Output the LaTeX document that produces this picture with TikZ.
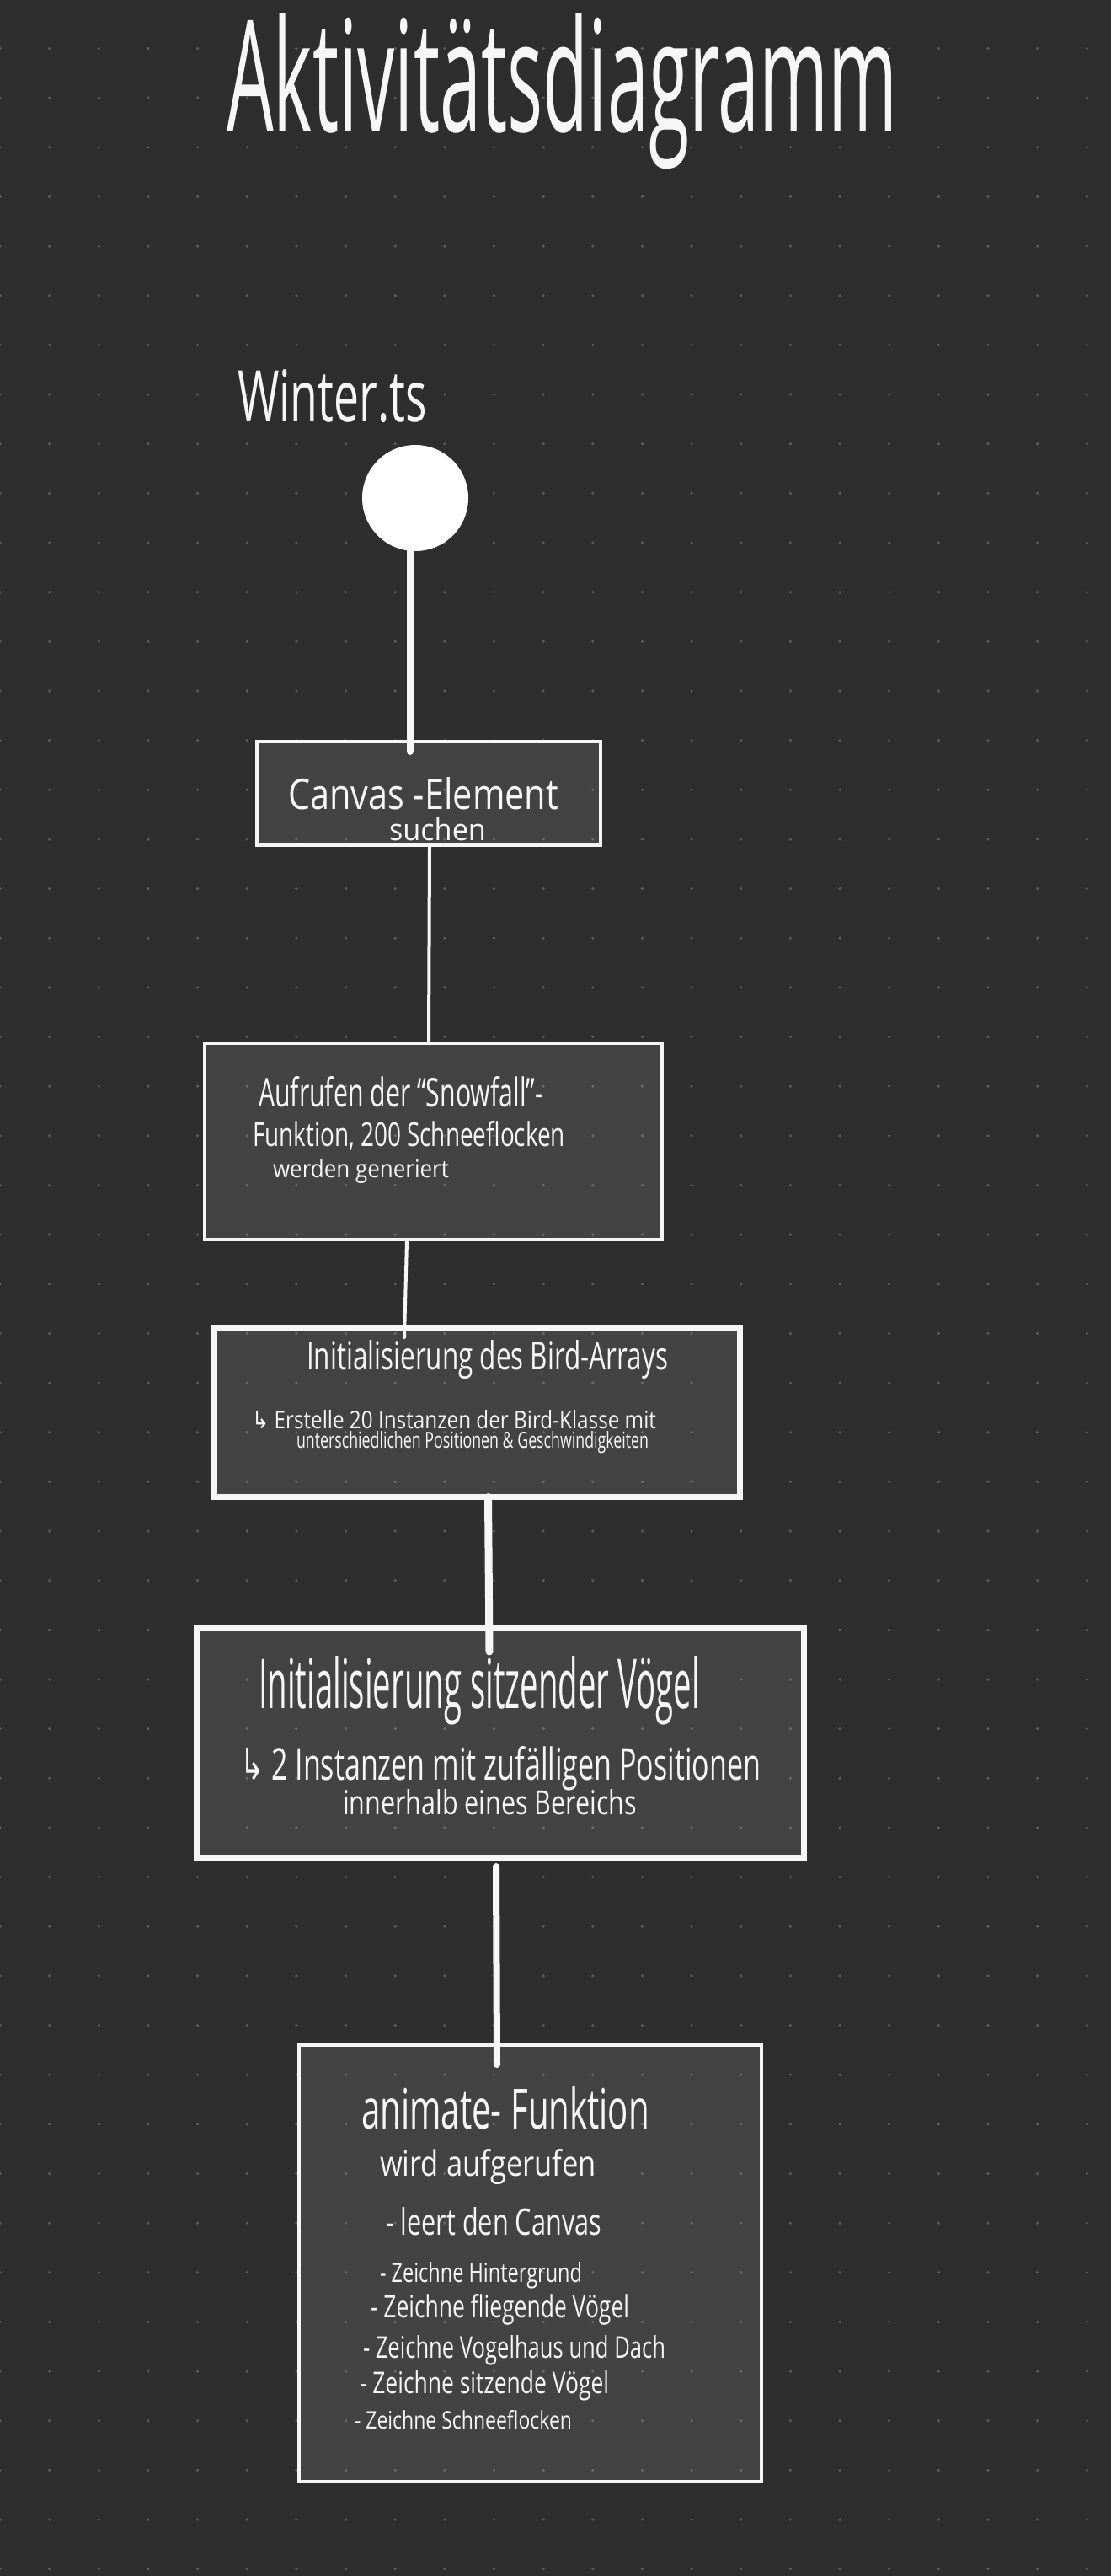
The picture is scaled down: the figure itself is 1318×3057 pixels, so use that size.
\documentclass[tikz,border=0pt]{standalone}
\usepackage{fontspec}
\setmainfont{Open Sans}
\newfontfamily\symfont{DejaVu Sans}
\usepackage{graphicx}
\usetikzlibrary{calc}
\newlength\pxu
\setlength\pxu{0.5pt}
\newcommand\fitpx[3]{\resizebox{#1\pxu}{#2\pxu}{#3}}
\definecolor{bg}{HTML}{2E2E2E}
\definecolor{gdot}{HTML}{5A5A5A}
\definecolor{ink}{HTML}{F6F6F6}
\tikzset{
  boxthin/.style={rectangle, draw=ink, line width=2pt, fill=white, fill opacity=0.1, draw opacity=1, inner sep=0pt, outer sep=0pt},
  boxthick/.style={boxthin, line width=3.5pt},
  txt/.style={anchor=base west, inner sep=0pt, outer sep=0pt, text=ink},
  conthin/.style={draw=ink, line width=2pt, line cap=round},
  conthick/.style={draw=ink, line width=4pt, line cap=round},
}
\begin{document}
\begin{tikzpicture}[x=0.5pt,y=-0.5pt]
\useasboundingbox (0,0) rectangle (1318,3057);
\fill[bg] (-30,-30) rectangle (1350,3090);
% dot grid
\foreach \i in {0,...,22}{
  \foreach \j in {0,...,51}{
    \fill[gdot] (\i*58.65, 57.5+\j*58.65) circle[radius=1.8];
  }
}
% title
\node[txt] (title) at (269,156) {\fitpx{797}{140}{Aktivitätsdiagramm}};
\node[txt] (file) at (282,500) {\fitpx{225}{62}{Winter.ts}};
% start node
\node[circle, fill=white, minimum size=63pt, inner sep=0pt, outer sep=0pt] (start) at (493,591) {};
% boxes
\node[boxthin, minimum width=204pt, minimum height=61.5pt] (b1) at (509,941.5) {};
\node[boxthin, minimum width=271.5pt, minimum height=116.5pt] (b2) at (514.5,1354.5) {};
\node[boxthick, minimum width=312pt, minimum height=100pt] (b3) at (566.5,1676.5) {};
\node[boxthick, minimum width=360.5pt, minimum height=136.5pt] (b4) at (594,2068) {};
\node[boxthin, minimum width=274.5pt, minimum height=259pt] (b5) at (629.5,2686) {};
% connectors
\draw[conthick] ($(start.south)+(-6,0)$) -- ($(b1.north)+(-22,12)$);
\draw[conthin] ($(b1.south)+(1,2)$) -- ($(b2.north)+(-5.5,0)$);
\draw[conthin] ($(b2.south)+(-31.5,2)$) -- ($(b3.north)+(-86.5,10.5)$);
\draw[line width=4.5pt, draw=ink, line cap=round] ($(b3.south)+(13,0)$) -- ($(b4.north)+(-13,28.5)$);
\draw[conthick] ($(b4.south)+(-5,10.5)$) -- ($(b5.north)+(-39.5,23)$);
% box 1 text
\node[txt] (t1a) at (342,960) {\fitpx{321}{38}{Canvas -Element}};
\node[txt] (t1b) at (462,997) {\fitpx{115}{27}{suchen}};
% box 2 text
\node[txt] (t2a) at (307,1313) {\fitpx{338}{36}{Aufrufen der \textquotedblleft Snowfall\textquotedblright-}};
\node[txt] (t2b) at (300,1360) {\fitpx{371}{30}{Funktion, 200 Schneeflocken}};
\node[txt] (t2c) at (324,1397) {\fitpx{209}{22}{werden generiert}};
% box 3 text
\node[txt] (t3a) at (364,1625) {\fitpx{429}{35}{Initialisierung des Bird-Arrays}};
\node[txt] (t3b) at (299,1695) {\fitpx{480}{22}{{\symfont ↳} Erstelle 20 Instanzen der Bird-Klasse mit}};
\node[txt] (t3c) at (352,1718) {\fitpx{418}{20}{unterschiedlichen Positionen \& Geschwindigkeiten}};
% box 4 text
\node[txt] (t4a) at (307,2027) {\fitpx{524}{62}{Initialisierung sitzender Vögel}};
\node[txt] (t4b) at (285,2112) {\fitpx{618}{40}{{\symfont ↳} 2 Instanzen mit zufälligen Positionen}};
\node[txt] (t4c) at (407,2153) {\fitpx{349}{30}{innerhalb eines Bereichs}};
% box 5 text
\node[txt] (t5a) at (429,2526) {\fitpx{342}{50}{animate- Funktion}};
\node[txt] (t5b) at (451,2582) {\fitpx{257}{32}{wird aufgerufen}};
\node[txt] (t5c) at (458,2652) {\fitpx{256}{33}{- leert den Canvas}};
\node[txt] (t5d) at (451,2708) {\fitpx{240}{24}{- Zeichne Hintergrund}};
\node[txt] (t5e) at (440,2750) {\fitpx{307}{28}{- Zeichne fliegende Vögel}};
\node[txt] (t5f) at (431,2798) {\fitpx{359}{27}{- Zeichne Vogelhaus und Dach}};
\node[txt] (t5g) at (427,2840) {\fitpx{296}{27}{- Zeichne sitzende Vögel}};
\node[txt] (t5h) at (421,2882) {\fitpx{258}{22}{- Zeichne Schneeflocken}};
\end{tikzpicture}
\end{document}
